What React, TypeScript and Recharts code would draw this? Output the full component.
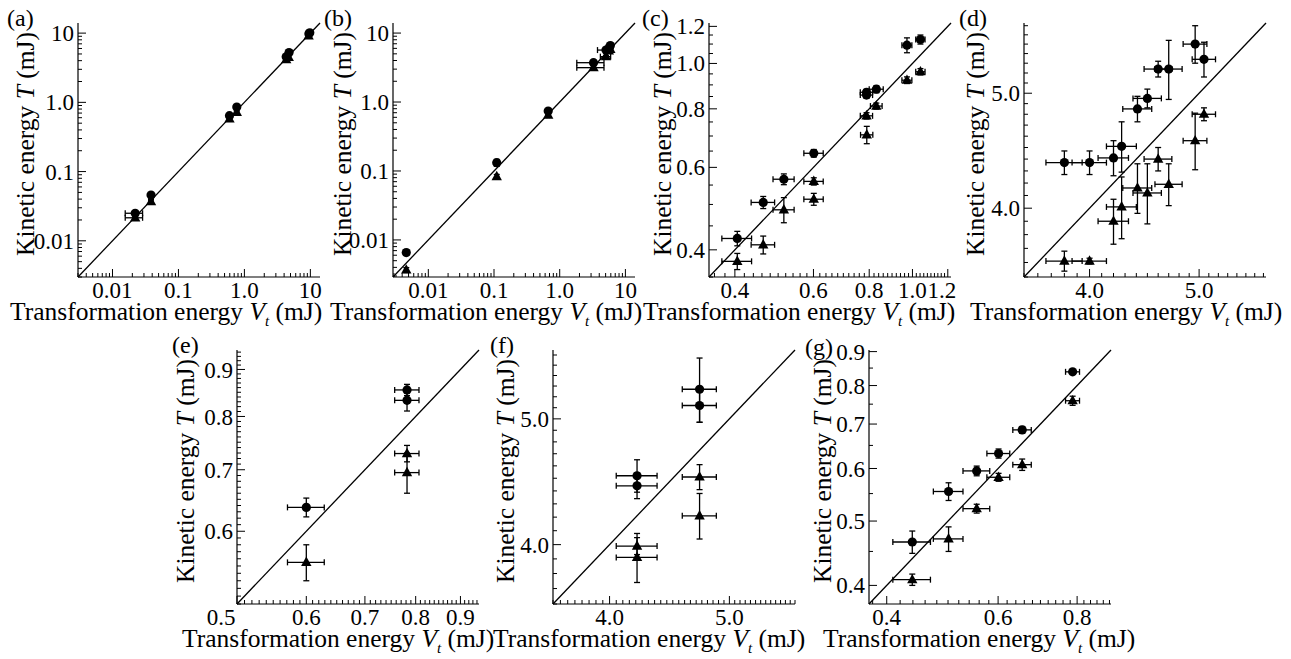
import React from 'react';
import { ScatterChart, Scatter, XAxis, YAxis, ErrorBar, ReferenceLine } from 'recharts';

// ---------------- data (x = transformation energy, y = kinetic energy) ----------------
const aCircles = [
  { x: 0.0221, y: 0.025, ex: 0.0065, ey: 0.0015 },
  { x: 0.0384, y: 0.0459, ex: 0.003, ey: 0.003 },
  { x: 0.594, y: 0.641, ex: 0.02, ey: 0.03 },
  { x: 0.766, y: 0.857, ex: 0.02, ey: 0.03 },
  { x: 4.3, y: 4.55, ex: 0.15, ey: 0.2 },
  { x: 4.75, y: 5.25, ex: 0.15, ey: 0.25 },
  { x: 9.5, y: 9.8, ex: 0.3, ey: 0.4 },
  { x: 9.8, y: 10.1, ex: 0.3, ey: 0.4 },
];
const aTriangles = [
  { x: 0.0221, y: 0.0215, ex: 0.0065, ey: 0.0015 },
  { x: 0.0384, y: 0.0367, ex: 0.003, ey: 0.003 },
  { x: 0.594, y: 0.575, ex: 0.02, ey: 0.02 },
  { x: 0.766, y: 0.716, ex: 0.02, ey: 0.03 },
  { x: 4.3, y: 4.15, ex: 0.15, ey: 0.2 },
  { x: 4.7, y: 4.45, ex: 0.15, ey: 0.2 },
  { x: 9.4, y: 9.1, ex: 0.3, ey: 0.4 },
];
const bCircles = [
  { x: 0.00462, y: 0.00656, ex: 0.0002, ey: 0.0006 },
  { x: 0.11, y: 0.132, ex: 0.004, ey: 0.015 },
  { x: 0.668, y: 0.74, ex: 0.03, ey: 0.04 },
  { x: 3.27, y: 3.72, ex: 1.45, ey: 0.3 },
  { x: 5.06, y: 5.67, ex: 1.3, ey: 0.3 },
  { x: 5.7, y: 6.2, ex: 0.4, ey: 0.3 },
  { x: 5.9, y: 6.6, ex: 0.4, ey: 0.3 },
];
const bTriangles = [
  { x: 0.00462, y: 0.00367, ex: 0.0002, ey: 0.0003 },
  { x: 0.11, y: 0.083, ex: 0.004, ey: 0.006 },
  { x: 0.668, y: 0.645, ex: 0.03, ey: 0.03 },
  { x: 3.27, y: 3.15, ex: 1.45, ey: 0.2 },
  { x: 5.06, y: 4.55, ex: 0.9, ey: 0.2 },
  { x: 5.6, y: 5.5, ex: 0.4, ey: 0.3 },
  { x: 5.9, y: 5.8, ex: 0.4, ey: 0.3 },
];
const cCircles = [
  { x: 0.405, y: 0.423, ex: 0.031, ey: 0.015 },
  { x: 0.463, y: 0.505, ex: 0.028, ey: 0.015 },
  { x: 0.515, y: 0.566, ex: 0.028, ey: 0.015 },
  { x: 0.601, y: 0.643, ex: 0.03, ey: 0.012 },
  { x: 0.789, y: 0.856, ex: 0.025, ey: 0.012 },
  { x: 0.789, y: 0.868, ex: 0.025, ey: 0.012 },
  { x: 0.83, y: 0.881, ex: 0.03, ey: 0.015 },
  { x: 0.972, y: 1.094, ex: 0.025, ey: 0.04 },
  { x: 1.042, y: 1.125, ex: 0.025, ey: 0.025 },
];
const cTriangles = [
  { x: 0.405, y: 0.378, ex: 0.031, ey: 0.015 },
  { x: 0.463, y: 0.41, ex: 0.028, ey: 0.018 },
  { x: 0.515, y: 0.487, ex: 0.028, ey: 0.03 },
  { x: 0.601, y: 0.56, ex: 0.03, ey: 0.01 },
  { x: 0.601, y: 0.513, ex: 0.03, ey: 0.015 },
  { x: 0.789, y: 0.773, ex: 0.025, ey: 0.012 },
  { x: 0.79, y: 0.704, ex: 0.025, ey: 0.03 },
  { x: 0.83, y: 0.811, ex: 0.025, ey: 0.012 },
  { x: 0.972, y: 0.921, ex: 0.025, ey: 0.015 },
  { x: 1.042, y: 0.96, ex: 0.025, ey: 0.015 },
];
const dCircles = [
  { x: 3.8, y: 4.37, ex: 0.14, ey: 0.1 },
  { x: 4.0, y: 4.37, ex: 0.14, ey: 0.1 },
  { x: 4.2, y: 4.41, ex: 0.13, ey: 0.15 },
  { x: 4.27, y: 4.51, ex: 0.13, ey: 0.22 },
  { x: 4.41, y: 4.85, ex: 0.13, ey: 0.12 },
  { x: 4.5, y: 4.95, ex: 0.13, ey: 0.09 },
  { x: 4.6, y: 5.24, ex: 0.13, ey: 0.08 },
  { x: 4.7, y: 5.24, ex: 0.13, ey: 0.3 },
  { x: 4.96, y: 5.5, ex: 0.12, ey: 0.2 },
  { x: 5.05, y: 5.34, ex: 0.12, ey: 0.18 },
];
const dTriangles = [
  { x: 3.8, y: 3.61, ex: 0.14, ey: 0.07 },
  { x: 4.0, y: 3.61, ex: 0.14, ey: 0.02 },
  { x: 4.2, y: 3.9, ex: 0.13, ey: 0.17 },
  { x: 4.27, y: 4.01, ex: 0.13, ey: 0.24 },
  { x: 4.41, y: 4.16, ex: 0.13, ey: 0.2 },
  { x: 4.5, y: 4.12, ex: 0.13, ey: 0.24 },
  { x: 4.6, y: 4.4, ex: 0.13, ey: 0.1 },
  { x: 4.7, y: 4.19, ex: 0.13, ey: 0.17 },
  { x: 4.96, y: 4.56, ex: 0.12, ey: 0.25 },
  { x: 5.05, y: 4.8, ex: 0.12, ey: 0.06 },
];
const eCircles = [
  { x: 0.6, y: 0.637, ex: 0.029, ey: 0.015 },
  { x: 0.782, y: 0.855, ex: 0.025, ey: 0.012 },
  { x: 0.782, y: 0.833, ex: 0.025, ey: 0.022 },
];
const eTriangles = [
  { x: 0.6, y: 0.555, ex: 0.029, ey: 0.025 },
  { x: 0.782, y: 0.729, ex: 0.025, ey: 0.015 },
  { x: 0.782, y: 0.695, ex: 0.025, ey: 0.035 },
];
const fCircles = [
  { x: 4.73, y: 5.27, ex: 0.15, ey: 0.3 },
  { x: 4.73, y: 5.12, ex: 0.15, ey: 0.15 },
  { x: 4.21, y: 4.52, ex: 0.16, ey: 0.13 },
  { x: 4.21, y: 4.44, ex: 0.16, ey: 0.1 },
];
const fTriangles = [
  { x: 4.21, y: 3.99, ex: 0.16, ey: 0.06 },
  { x: 4.21, y: 3.91, ex: 0.16, ey: 0.17 },
  { x: 4.73, y: 4.51, ex: 0.15, ey: 0.1 },
  { x: 4.73, y: 4.21, ex: 0.15, ey: 0.17 },
];
const gCircles = [
  { x: 0.439, y: 0.465, ex: 0.03, ey: 0.018 },
  { x: 0.501, y: 0.554, ex: 0.027, ey: 0.017 },
  { x: 0.555, y: 0.595, ex: 0.027, ey: 0.01 },
  { x: 0.601, y: 0.632, ex: 0.025, ey: 0.01 },
  { x: 0.655, y: 0.686, ex: 0.022, ey: 0.008 },
  { x: 0.787, y: 0.839, ex: 0.02, ey: 0.005 },
];
const gTriangles = [
  { x: 0.439, y: 0.408, ex: 0.03, ey: 0.008 },
  { x: 0.501, y: 0.47, ex: 0.027, ey: 0.02 },
  { x: 0.555, y: 0.522, ex: 0.027, ey: 0.008 },
  { x: 0.601, y: 0.582, ex: 0.025, ey: 0.008 },
  { x: 0.655, y: 0.608, ex: 0.022, ey: 0.012 },
  { x: 0.787, y: 0.759, ex: 0.02, ey: 0.012 },
];

// ---------------- tick labels ----------------
const decadeMajors = [0.01, 0.1, 1, 10];
const decadeLabels = ['0.01', '0.1', '1.0', '10'];
const cMajors = [0.4, 0.6, 0.8, 1.0, 1.2];
const cLabels = ['0.4', '0.6', '0.8', '1.0', '1.2'];
const fourFiveMajors = [4, 5];
const fourFiveLabels = ['4.0', '5.0'];
const eXMajors = [0.5, 0.6, 0.7, 0.8, 0.9];
const eXLabels = ['0.5', '0.6', '0.7', '0.8', '0.9'];
const eYMajors = [0.6, 0.7, 0.8, 0.9];
const eYLabels = ['0.6', '0.7', '0.8', '0.9'];
const gXMajors = [0.4, 0.6, 0.8];
const gXLabels = ['0.4', '0.6', '0.8'];
const gYMajors = [0.4, 0.5, 0.6, 0.7, 0.8, 0.9];
const gYLabels = ['0.4', '0.5', '0.6', '0.7', '0.8', '0.9'];

// ---------------- helpers ----------------
const FONT = "'Liberation Serif', 'Times New Roman', 'DejaVu Serif', serif";
const TXT: React.CSSProperties = { fontFamily: FONT };

function stepTicks(a: number, b: number, s: number): number[] {
  const out: number[] = [];
  for (let i = 0; a + i * s <= b + s * 1e-6; i++) out.push(Math.round((a + i * s) * 10000) / 10000);
  return out;
}
function logTicks(lo: number, hi: number): number[] {
  const out: number[] = [];
  for (let e = -4; e <= 2; e++) {
    for (let k = 1; k <= 9; k++) {
      const v = parseFloat((k * Math.pow(10, e)).toPrecision(6));
      if (v >= lo * (1 - 1e-9) && v <= hi * (1 + 1e-9)) out.push(v);
    }
  }
  return out;
}
const findMajor = (majors: number[], v: number) =>
  majors.findIndex((m) => Math.abs(m - v) <= 1e-9 + 1e-6 * Math.abs(m));

function makeXTick(majors: number[], labels: string[], shifts: Record<string, number>) {
  return (props: any) => {
    const { x, y, payload } = props;
    const i = findMajor(majors, payload.value);
    const major = i >= 0;
    return (
      <g>
        <line x1={x} x2={x} y1={y} y2={y - (major ? 8 : 4)} stroke="#000" strokeWidth={1} />
        {major && (
          <text x={x + (shifts[labels[i]] || 0)} y={y + 21} textAnchor="middle" fontSize={23} style={TXT} fill="#000">
            {labels[i]}
          </text>
        )}
      </g>
    );
  };
}
function makeYTick(majors: number[], labels: string[]) {
  return (props: any) => {
    const { x, y, payload } = props;
    const i = findMajor(majors, payload.value);
    const major = i >= 0;
    return (
      <g>
        <line x1={x} x2={x + (major ? 8 : 4)} y1={y} y2={y} stroke="#000" strokeWidth={1} />
        {major && (
          <text x={x - 4} y={y} dy="0.35em" textAnchor="end" fontSize={23} style={TXT} fill="#000">
            {labels[i]}
          </text>
        )}
      </g>
    );
  };
}

const circleShape = (p: any) => <circle cx={p.cx} cy={p.cy} r={4.6} fill="#000" />;
const triangleShape = (p: any) => (
  <path d={`M${p.cx},${p.cy - 5.8}L${p.cx + 5.2},${p.cy + 3.6}L${p.cx - 5.2},${p.cy + 3.6}Z`} fill="#000" />
);

// ---------------- layout ----------------
const ML = 80, MT = 25, PW = 242, PH = 254, MR = 12, MB = 60;
const W = ML + PW + MR, H = MT + PH + MB;

type Cfg = {
  tag: string; left: number; top: number; dom: [number, number];
  xt: number[]; yt: number[];
  xMaj: number[]; xLab: string[]; yMaj: number[]; yLab: string[];
  xShift: Record<string, number>;
  circles: any[]; tris: any[];
  tagX: number; tagY: number; xTitleX: number; yTitleX: number;
};

const panels: Cfg[] = [
  { tag: '(a)', left: 78, top: 23, dom: [0.003, 14], xt: logTicks(0.003, 14), yt: logTicks(0.003, 14),
    xMaj: decadeMajors, xLab: decadeLabels, yMaj: decadeMajors, yLab: decadeLabels, xShift: {},
    circles: aCircles, tris: aTriangles, tagX: 7, tagY: 26, xTitleX: 10, yTitleX: 34 },
  { tag: '(b)', left: 393, top: 23, dom: [0.0029, 14], xt: logTicks(0.0029, 14), yt: logTicks(0.0029, 14),
    xMaj: decadeMajors, xLab: decadeLabels, yMaj: decadeMajors, yLab: decadeLabels, xShift: {},
    circles: bCircles, tris: bTriangles, tagX: 324, tagY: 26, xTitleX: 330, yTitleX: 351 },
  { tag: '(c)', left: 709, top: 23, dom: [0.35, 1.22], xt: stepTicks(0.36, 1.2, 0.02), yt: stepTicks(0.35, 1.2, 0.05),
    xMaj: cMajors, xLab: cLabels, yMaj: cMajors, yLab: cLabels, xShift: { '1.2': -6 },
    circles: cCircles, tris: cTriangles, tagX: 642, tagY: 26, xTitleX: 643, yTitleX: 671 },
  { tag: '(d)', left: 1024, top: 23, dom: [3.5, 5.73], xt: stepTicks(3.5, 5.7, 0.1), yt: stepTicks(3.5, 5.7, 0.1),
    xMaj: fourFiveMajors, xLab: fourFiveLabels, yMaj: fourFiveMajors, yLab: fourFiveLabels, xShift: {},
    circles: dCircles, tris: dTriangles, tagX: 959, tagY: 26, xTitleX: 970, yTitleX: 984 },
  { tag: '(e)', left: 237, top: 350, dom: [0.5, 0.945], xt: stepTicks(0.5, 0.94, 0.01), yt: stepTicks(0.5, 0.94, 0.01),
    xMaj: eXMajors, xLab: eXLabels, yMaj: eYMajors, yLab: eYLabels, xShift: { '0.5': -16 },
    circles: eCircles, tris: eTriangles, tagX: 172, tagY: 353, xTitleX: 182, yTitleX: 194 },
  { tag: '(f)', left: 553, top: 350, dom: [3.6, 5.65], xt: stepTicks(3.6, 5.65, 0.05), yt: stepTicks(3.6, 5.6, 0.1),
    xMaj: fourFiveMajors, xLab: fourFiveLabels, yMaj: fourFiveMajors, yLab: fourFiveLabels, xShift: {},
    circles: fCircles, tris: fTriangles, tagX: 490, tagY: 353, xTitleX: 493, yTitleX: 514 },
  { tag: '(g)', left: 869, top: 350, dom: [0.375, 0.905], xt: stepTicks(0.38, 0.9, 0.02), yt: stepTicks(0.4, 0.9, 0.05),
    xMaj: gXMajors, xLab: gXLabels, yMaj: gYMajors, yLab: gYLabels, xShift: {},
    circles: gCircles, tris: gTriangles, tagX: 805, tagY: 355, xTitleX: 823, yTitleX: 831 },
];

function Panel({ c }: { c: Cfg }) {
  const [d0, d1] = c.dom;
  const ebX = { dataKey: 'ex', direction: 'x' as const, width: 3, stroke: '#000', strokeWidth: 1.3, isAnimationActive: false };
  const ebY = { dataKey: 'ey', direction: 'y' as const, width: 3, stroke: '#000', strokeWidth: 1.3, isAnimationActive: false };
  return (
    <div style={{ position: 'absolute', left: c.left - ML, top: c.top - MT }}>
      <ScatterChart width={W} height={H} margin={{ top: MT, right: MR, bottom: 0, left: 0 }} style={TXT}>
        <XAxis
          type="number" dataKey="x" scale="log" domain={[d0, d1]} allowDataOverflow
          ticks={c.xt} interval={0} tickSize={0} tickMargin={0} tickLine={false}
          tick={makeXTick(c.xMaj, c.xLab, c.xShift)} height={MB}
          axisLine={{ stroke: '#000', strokeWidth: 1.2 }}
        />
        <YAxis
          type="number" dataKey="y" scale="log" domain={[d0, d1]} allowDataOverflow
          ticks={c.yt} interval={0} tickSize={0} tickMargin={0} tickLine={false}
          tick={makeYTick(c.yMaj, c.yLab)} width={ML}
          axisLine={{ stroke: '#000', strokeWidth: 1.2 }}
        />
        <ReferenceLine segment={[{ x: d0, y: d0 }, { x: d1, y: d1 }]} stroke="#000" strokeWidth={1.3} ifOverflow="visible" />
        <Scatter data={c.circles} shape={circleShape} isAnimationActive={false}>
          <ErrorBar {...ebX} />
          <ErrorBar {...ebY} />
        </Scatter>
        <Scatter data={c.tris} shape={triangleShape} isAnimationActive={false}>
          <ErrorBar {...ebX} />
          <ErrorBar {...ebY} />
        </Scatter>
      </ScatterChart>
    </div>
  );
}

export default function App() {
  return (
    <div style={{ position: 'absolute', left: 0, top: 0, width: 1291, height: 659, background: '#fff', overflow: 'hidden', fontFamily: FONT }}>
      {panels.map((c) => (
        <Panel key={c.tag} c={c} />
      ))}
      <svg width={1291} height={659} style={{ position: 'absolute', left: 0, top: 0, pointerEvents: 'none', fontFamily: FONT }}>
        {panels.map((c) => (
          <g key={c.tag} style={TXT} fill="#000">
            <text x={c.tagX} y={c.tagY} fontSize={24} style={TXT}>{c.tag}</text>
            <text x={c.xTitleX} y={c.top + PH + 43} fontSize={25.5} style={TXT}>
              Transformation energy <tspan fontStyle="italic">V</tspan>
              <tspan fontStyle="italic" fontSize={15} dy={6}>t</tspan>
              <tspan dy={-6}> (mJ)</tspan>
            </text>
            <text transform={`translate(${c.yTitleX}, ${c.top + PH / 2 - 6}) rotate(-90)`} textAnchor="middle" fontSize={25.5} style={TXT}>
              Kinetic energy <tspan fontStyle="italic">T</tspan> (mJ)
            </text>
          </g>
        ))}
      </svg>
    </div>
  );
}
